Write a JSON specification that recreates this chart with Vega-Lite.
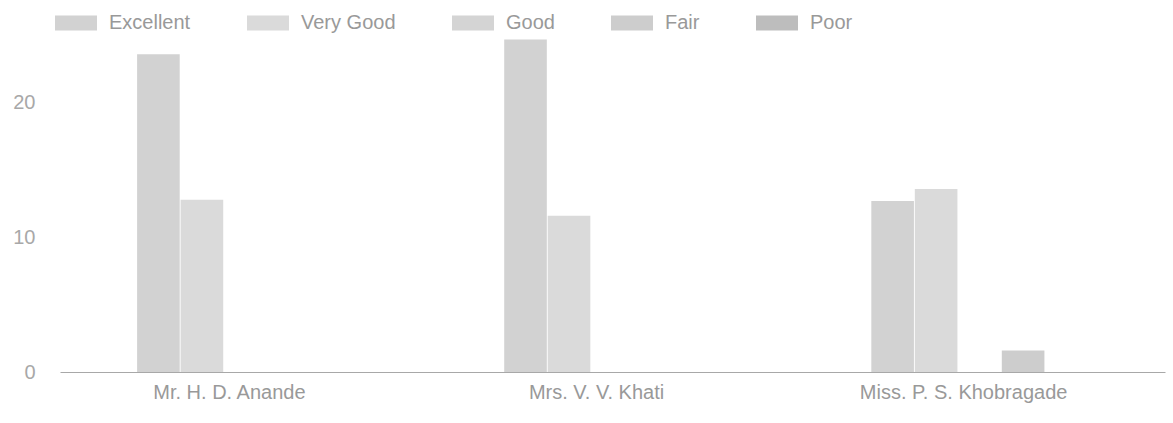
{
  "$schema": "https://vega.github.io/schema/vega-lite/v6.json",
  "autosize": {"type": "none"},
  "padding": {"left": 60, "top": 22, "right": 8, "bottom": 51},
  "width": 1105,
  "height": 350,
  "background": "white",
  "data": {
    "values": [
      {"teacher": "Mr. H. D. Anande", "rating": "Excellent", "count": 23.6},
      {"teacher": "Mr. H. D. Anande", "rating": "Very Good", "count": 12.8},
      {"teacher": "Mrs. V. V. Khati", "rating": "Excellent", "count": 24.7},
      {"teacher": "Mrs. V. V. Khati", "rating": "Very Good", "count": 11.6},
      {"teacher": "Miss. P. S. Khobragade", "rating": "Excellent", "count": 12.7},
      {"teacher": "Miss. P. S. Khobragade", "rating": "Very Good", "count": 13.6},
      {"teacher": "Miss. P. S. Khobragade", "rating": "Fair", "count": 1.6}
    ]
  },
  "mark": {"type": "bar"},
  "encoding": {
    "x": {
      "field": "teacher",
      "type": "nominal",
      "sort": ["Mr. H. D. Anande", "Mrs. V. V. Khati", "Miss. P. S. Khobragade"],
      "scale": {"paddingInner": 0.41, "paddingOuter": 0.21},
      "axis": {
        "title": null,
        "labelAngle": 0,
        "labelLimit": 0,
        "labelOffset": -16,
        "labelFont": "Liberation Sans",
        "labelFontSize": 20,
        "labelColor": "#999999",
        "labelPadding": 10,
        "ticks": false,
        "tickSize": 0,
        "domainColor": "#a8a8a8",
        "domainWidth": 1
      }
    },
    "xOffset": {
      "field": "rating",
      "type": "nominal",
      "scale": {"domain": ["Excellent", "Very Good", "Good", "Fair", "Poor"], "paddingInner": 0.02}
    },
    "y": {
      "field": "count",
      "type": "quantitative",
      "scale": {"domain": [0, 26], "nice": false},
      "axis": {
        "title": null,
        "values": [0, 10, 20],
        "grid": false,
        "domain": false,
        "ticks": false,
        "tickSize": 0,
        "labelPadding": 25,
        "labelFont": "Liberation Sans",
        "labelFontSize": 20,
        "labelColor": "#a8a8a8"
      }
    },
    "color": {
      "field": "rating",
      "type": "nominal",
      "scale": {
        "domain": ["Excellent", "Very Good", "Good", "Fair", "Poor"],
        "range": ["#d2d2d2", "#dadada", "#d4d4d4", "#cdcdcd", "#bdbdbd"]
      },
      "legend": {
        "title": null,
        "orient": "none",
        "direction": "horizontal",
        "legendX": -5,
        "legendY": -20,
        "symbolType": "M-1,-0.36L1,-0.36L1,0.36L-1,0.36Z",
        "symbolSize": 1764,
        "symbolStrokeWidth": 0,
        "symbolOpacity": 1,
        "labelFont": "Liberation Sans",
        "labelFontSize": 20,
        "labelColor": "#999999",
        "labelOffset": 12,
        "labelLimit": 0,
        "columnPadding": 56
      }
    }
  },
  "config": {
    "view": {"stroke": null}
  }
}
